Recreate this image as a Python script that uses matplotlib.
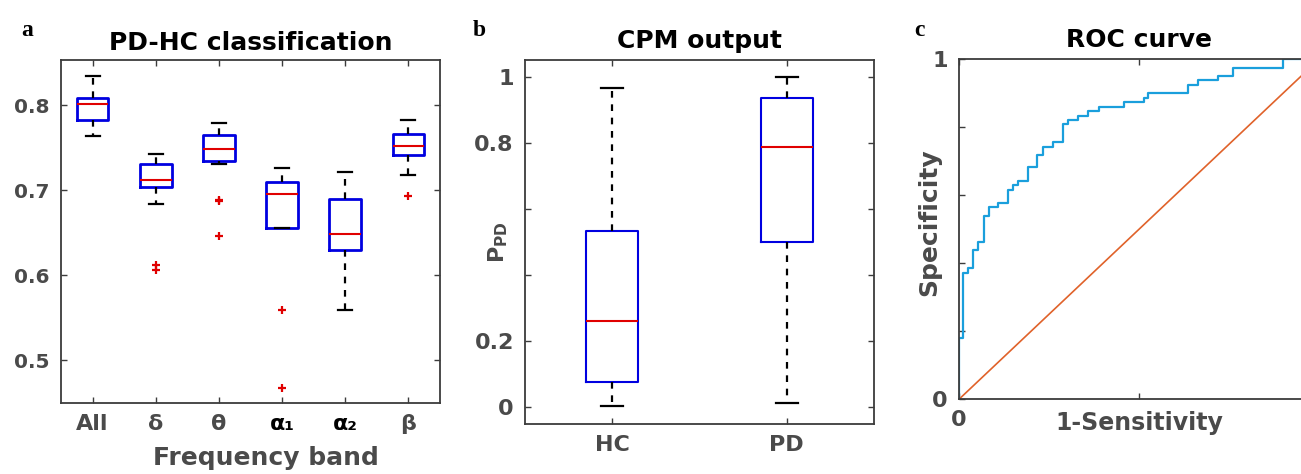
import matplotlib
matplotlib.use("Agg")
import matplotlib.pyplot as plt

# panel a: classification accuracy per frequency band
bands = ["All", "δ", "θ", "α₁", "α₂", "β"]
acc_hi = [0.8345, 0.743, 0.7788, 0.7262, 0.7215, 0.782]
acc_q3 = [0.808, 0.7306, 0.7643, 0.710, 0.6894, 0.7659]
acc_med = [0.801, 0.7126, 0.749, 0.696, 0.649, 0.752]
acc_q1 = [0.783, 0.704, 0.734, 0.6553, 0.6294, 0.741]
acc_lo = [0.7635, 0.6835, 0.7314, 0.6553, 0.5596, 0.7176]
acc_out = [[], [0.6126, 0.6067], [0.689, 0.687, 0.646], [0.5588, 0.4679], [], [0.693]]

# panel b: CPM output probability
groups = ["HC", "PD"]
p_hi = [0.966, 0.998]
p_q3 = [0.532, 0.935]
p_med = [0.261, 0.786]
p_q1 = [0.078, 0.499]
p_lo = [0.0045, 0.012]

# panel c: ROC curve vertices
fpr = [0, 0.012, 0.026, 0.040, 0.054, 0.069, 0.083, 0.109, 0.137, 0.151,
       0.165, 0.191, 0.218, 0.234, 0.262, 0.290, 0.304, 0.331, 0.359, 0.389,
       0.459, 0.515, 0.526, 0.637, 0.665, 0.720, 0.760, 0.899, 1.0]
tpr = [0, 0.179, 0.371, 0.386, 0.439, 0.464, 0.539, 0.565, 0.578, 0.616,
       0.630, 0.642, 0.682, 0.719, 0.743, 0.758, 0.810, 0.822, 0.833, 0.848,
       0.861, 0.873, 0.887, 0.900, 0.925, 0.939, 0.951, 0.975, 1.0]

plt.rcParams["font.family"] = "DejaVu Sans"
plt.rcParams["font.weight"] = "bold"
GREY = "#4a4a4a"
SPINE = "#3c3c3c"


def style(ax, size):
    for s in ax.spines.values():
        s.set_color(SPINE)
        s.set_linewidth(1.3)
    ax.tick_params(direction="in", length=4, width=1, color=SPINE, pad=8,
                   labelcolor=GREY, labelsize=size, top=True, right=True)
    for lab in ax.get_xticklabels() + ax.get_yticklabels():
        lab.set_fontweight("bold")


def boxes(ax, lo, q1, med, q3, hi, out, width, capw, lw):
    stats = [dict(whislo=a, q1=b, med=c, q3=d, whishi=e, fliers=f)
             for a, b, c, d, e, f in zip(lo, q1, med, q3, hi, out)]
    ax.bxp(stats, widths=width, capwidths=capw, showfliers=True,
           boxprops=dict(color="#0000e0", linewidth=lw),
           medianprops=dict(color="#e00000", linewidth=1.5),
           whiskerprops=dict(color="black", linewidth=1.6, linestyle=(0, (3, 3))),
           capprops=dict(color="black", linewidth=1.6),
           flierprops=dict(marker="+", markeredgecolor="#e00000",
                           markersize=6, markeredgewidth=1.6))


fig = plt.figure(figsize=(13.01, 4.74), dpi=100)

# a
ax = fig.add_axes([0.0469, 0.1498, 0.2913, 0.7236])
boxes(ax, acc_lo, acc_q1, acc_med, acc_q3, acc_hi, acc_out, 0.5, 0.22, 2)
ax.set_xlim(0.5, 6.5)
ax.set_ylim(0.45, 0.853)
ax.set_yticks([0.5, 0.6, 0.7, 0.8])
ax.set_xticks(range(1, 7))
ax.set_xticklabels(bands)
style(ax, 14.5)
for lab in ax.get_xticklabels():
    lab.set_fontsize(16)
    if lab.get_text().startswith("α"):
        lab.set_color("black")
ax.set_xlabel("Frequency band", fontsize=18, color=GREY, fontweight="bold")
ax.xaxis.set_label_coords(0.54, -0.125)
ax.set_title("PD-HC classification", fontsize=18, fontweight="bold", pad=7)
fig.text(0.016, 0.925, "a", family="Liberation Serif", fontsize=17, fontweight="bold")

# b
ax = fig.add_axes([0.4035, 0.1055, 0.2683, 0.7679])
boxes(ax, p_lo, p_q1, p_med, p_q3, p_hi, [[], []], 0.3, 0.125, 1.5)
ax.set_xlim(0.5, 2.5)
ax.set_ylim(-0.05, 1.05)
ax.set_yticks([0, 0.2, 0.4, 0.6, 0.8, 1])
ax.set_yticklabels(["0", "0.2", "", "", "0.8", "1"])
ax.set_xticks([1, 2])
ax.set_xticklabels(groups)
style(ax, 16)
ax.set_ylabel(r"$\mathbf{P_{PD}}$", fontsize=16, color=GREY)
ax.yaxis.set_label_coords(-0.042, 0.5)
ax.set_title("CPM output", fontsize=18, fontweight="bold", pad=9)
fig.text(0.363, 0.925, "b", family="Liberation Serif", fontsize=17, fontweight="bold")

# c (panel cropped on the right like the source figure)
ax = fig.add_axes([0.7371, 0.1576, 0.2767, 0.7173])
ax.plot([0, 1], [0, 1], color="#e0622a", linewidth=1.2)
ax.step(fpr, tpr, where="pre", color="#1a9fdc", linewidth=1.6)
ax.set_xlim(0, 1)
ax.set_ylim(0, 1)
ax.set_xticks([0, 0.5, 1])
ax.set_xticklabels(["0", "", ""])
ax.set_yticks([0, 0.2, 0.4, 0.6, 0.8, 1])
ax.set_yticklabels(["0", "", "", "", "", "1"])
style(ax, 16)
ax.set_xlabel("1-Sensitivity", fontsize=17, color=GREY, fontweight="bold")
ax.xaxis.set_label_coords(0.5, -0.035)
ax.set_ylabel("Specificity", fontsize=18, color=GREY, fontweight="bold")
ax.yaxis.set_label_coords(-0.05, 0.52)
ax.set_title("ROC curve", fontsize=18, fontweight="bold", pad=9)
fig.text(0.703, 0.925, "c", family="Liberation Serif", fontsize=17, fontweight="bold")

fig.savefig("out.png", dpi=100)
